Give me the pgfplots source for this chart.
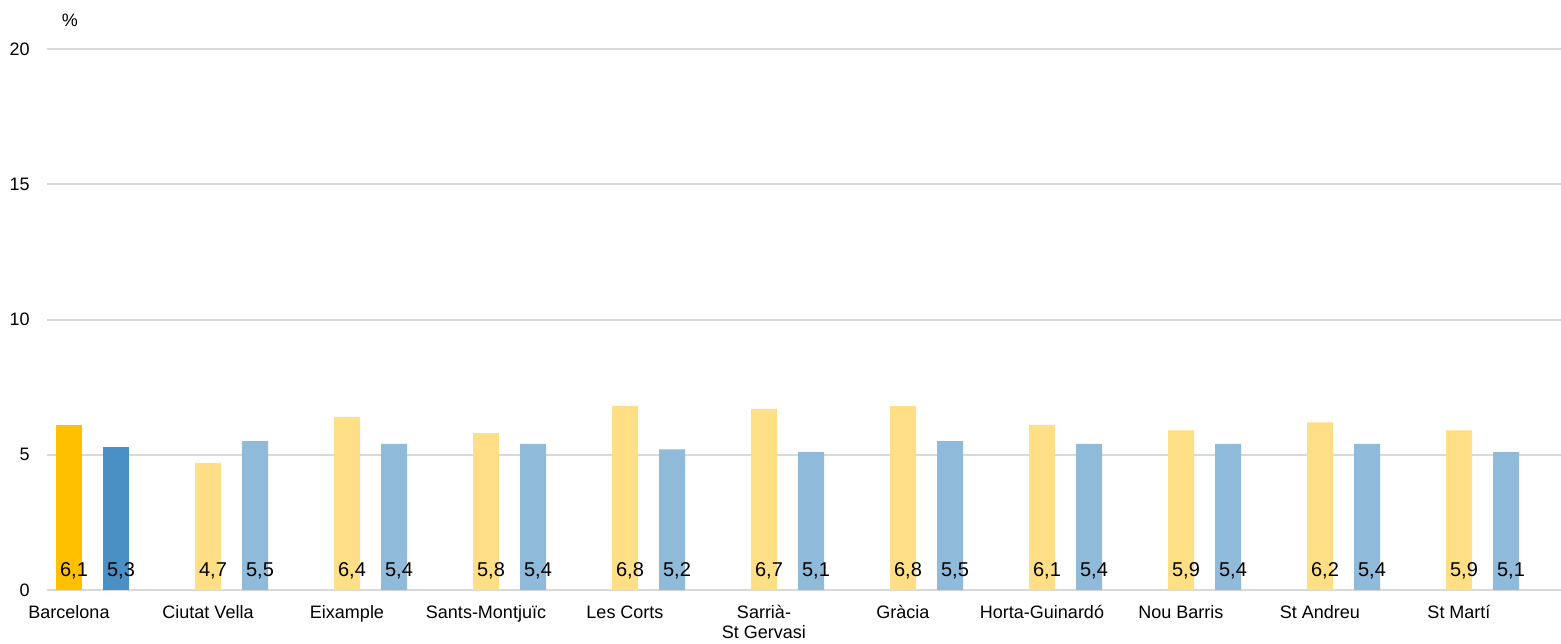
\documentclass[border=0pt]{standalone}
\usepackage{pgfplots}
\pgfplotsset{compat=1.18}
\usepackage{fontspec}
\setmainfont{Liberation Sans}
\definecolor{ydark}{HTML}{FFC000}
\definecolor{bdark}{HTML}{4A90C4}
\definecolor{ylight}{HTML}{FFDF85}
\definecolor{blight}{HTML}{90BAD9}
\definecolor{gridc}{HTML}{D9D9D9}
\pgfplotsset{/pgf/number format/assume math mode=true}
\begin{document}
\begin{tikzpicture}
\useasboundingbox (0,0) rectangle (780.5pt,321.5pt);
\begin{axis}[
  at={(23.5pt,26.5pt)}, anchor=south west,
  scale only axis, width=757pt, height=270.5pt,
  xmin=-0.1583, xmax=10.734, ymin=0, ymax=20,
  ytick={0,5,10,15,20},
  xtick={0,...,10},
  xticklabels={Barcelona, Ciutat Vella, Eixample, Sants-Montjuïc, Les Corts, {\begin{tabular}[t]{@{}c@{}}Sarrià-\\St Gervasi\end{tabular}}, Gràcia, Horta-Guinardó, Nou Barris, St Andreu, St Martí},
  axis line style={draw=none},
  major tick length=0pt,
  ymajorgrids, grid style={gridc, line width=1pt},
  tick label style={font=\fontsize{9}{10}\selectfont},
  yticklabel style={anchor=east, inner sep=0pt, xshift=-8.5pt},
  xticklabel style={anchor=base, inner sep=0pt, yshift=-14pt},
  clip=false,
]
\addplot[ybar, bar width=13pt, bar shift=0pt, fill=ydark, draw=none] coordinates {(0,6.1)};
\addplot[ybar, bar width=13pt, bar shift=23.5pt, fill=bdark, draw=none] coordinates {(0,5.3)};
\addplot[ybar, bar width=13pt, bar shift=0pt, fill=ylight, draw=none] coordinates {
(1,4.7) (2,6.4) (3,5.8) (4,6.8) (5,6.7) (6,6.8) (7,6.1) (8,5.9) (9,6.2) (10,5.9)};
\addplot[ybar, bar width=13pt, bar shift=23.5pt, fill=blight, draw=none] coordinates {
(1,5.5) (2,5.4) (3,5.4) (4,5.2) (5,5.1) (6,5.5) (7,5.4) (8,5.4) (9,5.4) (10,5.1)};
% value labels at the base of the bars
\addplot[draw=none, mark=none, point meta=explicit,
  nodes near coords={\pgfmathprintnumber[fixed, fixed zerofill, precision=1, use comma]{\pgfplotspointmeta}},
  nodes near coords style={anchor=base, yshift=7pt, xshift=2.5pt, inner sep=0pt, font=\fontsize{10}{12}\selectfont, text=black}]
  table[x=x, y expr=0, meta=v] {
x v
0 6.1
1 4.7
2 6.4
3 5.8
4 6.8
5 6.7
6 6.8
7 6.1
8 5.9
9 6.2
10 5.9
};
\addplot[draw=none, mark=none, point meta=explicit,
  nodes near coords={\pgfmathprintnumber[fixed, fixed zerofill, precision=1, use comma]{\pgfplotspointmeta}},
  nodes near coords style={anchor=base, yshift=7pt, xshift=26pt, inner sep=0pt, font=\fontsize{10}{12}\selectfont, text=black}]
  table[x=x, y expr=0, meta=v] {
x v
0 5.3
1 5.5
2 5.4
3 5.4
4 5.2
5 5.1
6 5.5
7 5.4
8 5.4
9 5.4
10 5.1
};
\end{axis}
\node[font=\fontsize{9}{10}\selectfont] at (35pt,311.5pt) {\%};
\end{tikzpicture}
\end{document}
